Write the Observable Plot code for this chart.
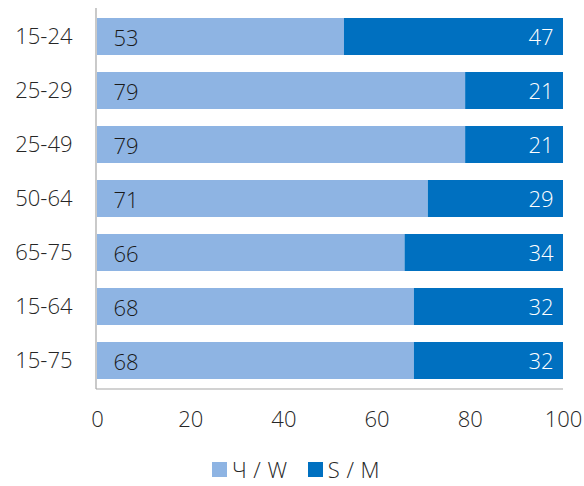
<!DOCTYPE html>
<html>
<head>
<meta charset="utf-8">
<script src="https://cdn.jsdelivr.net/npm/d3@7"></script>
<script src="https://cdn.jsdelivr.net/npm/@observablehq/plot@0.6"></script>
<style>
  body { margin: 0; background: #fff; font-family: "Open Sans", sans-serif; font-weight: 300; }
  svg text { font-weight: 300; }
  #legend { display: flex; justify-content: center; gap: 20px; font-size: 22px; color: #262626; margin-top: 14px; margin-left: 8px; letter-spacing: 0.5px; }
  .item { display: flex; align-items: center; gap: 5px; }
  .sw { width: 15px; height: 15px; display: inline-block; }
</style>
</head>
<body>
<div id="chart"></div>
<div id="legend"></div>
<script>
const ages = ["15-24", "25-29", "25-49", "50-64", "65-75", "15-64", "15-75"];
const women = [53, 79, 79, 71, 66, 68, 68];
const men = [47, 21, 21, 29, 34, 32, 32];
const seriesNames = ["Ч / W", "S / M"];
const seriesColors = ["#8EB4E3", "#0070C0"];
const xTicks = [0, 20, 40, 60, 80, 100];

const data = [];
ages.forEach((a, i) => {
  data.push({age: a, sex: seriesNames[0], value: women[i]});
  data.push({age: a, sex: seriesNames[1], value: men[i]});
});

const axisLine = (index, scales, values, dim) => {
  const g = document.createElementNS("http://www.w3.org/2000/svg", "g");
  const x0 = dim.marginLeft - 1, x1 = dim.width - dim.marginRight, y0 = dim.marginTop, y1 = dim.height - dim.marginBottom;
  g.innerHTML = `<line x1="${x0}" x2="${x0}" y1="${y0}" y2="${y1}" stroke="#a6a6a6" stroke-width="1.2"/>` +
    `<line x1="${x0}" x2="${x1}" y1="${y1}" y2="${y1}" stroke="#a6a6a6" stroke-width="1.2"/>`;
  return g;
};

const chart = Plot.plot({
  width: 584,
  height: 440,
  marginLeft: 97,
  marginRight: 21,
  marginTop: 8,
  marginBottom: 51,
  style: {fontFamily: "Open Sans, sans-serif", fontSize: "22px", color: "#262626", background: "#fff"},
  x: {domain: [0, 100], ticks: xTicks, tickSize: 0, tickPadding: 22, label: null},
  y: {domain: ages, paddingInner: 0.32, paddingOuter: 0.166, tickSize: 0, tickPadding: 25, label: null},
  color: {domain: seriesNames, range: seriesColors},
  marks: [
    Plot.barX(data, Plot.stackX({x: "value", y: "age", fill: "sex", order: seriesNames})),
    Plot.text(data.filter(d => d.sex === seriesNames[0]), {x: 0, y: "age", text: d => String(d.value), textAnchor: "start", dx: 16, dy: 2, fill: "#1a1a1a", fontSize: 22}),
    Plot.text(data.filter(d => d.sex === seriesNames[1]), {x: 100, y: "age", text: d => String(d.value), textAnchor: "end", dx: -10, dy: 1, fill: "#ffffff", fontSize: 22}),
    axisLine
  ]
});
document.getElementById("chart").appendChild(chart);

const legend = document.getElementById("legend");
seriesNames.forEach((n, i) => {
  const it = document.createElement("div");
  it.className = "item";
  it.innerHTML = `<span class="sw" style="background:${seriesColors[i]}"></span><span>${n}</span>`;
  legend.appendChild(it);
});
</script>
</body>
</html>
